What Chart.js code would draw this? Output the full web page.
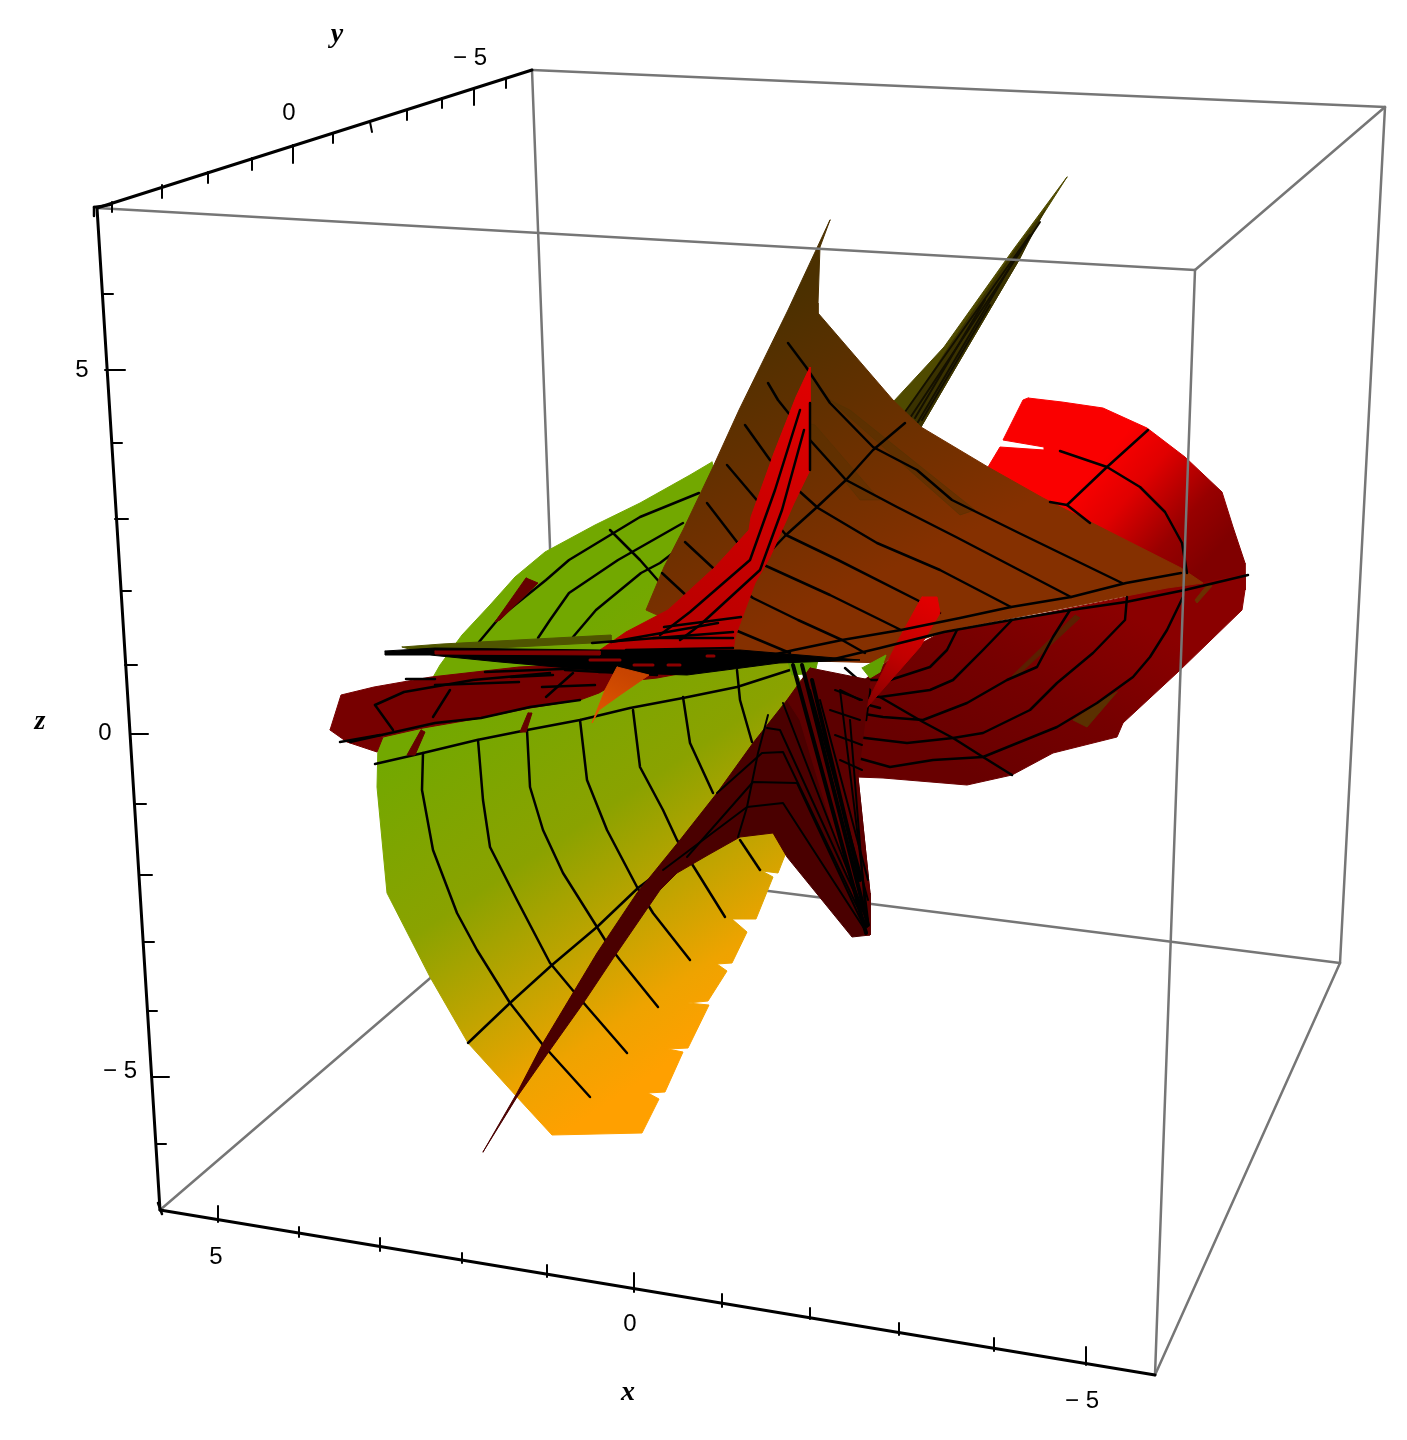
<!DOCTYPE html>
<html><head><meta charset="utf-8">
<style>html,body{margin:0;padding:0;background:#fff}canvas{display:block}</style>
<script src="https://cdn.jsdelivr.net/npm/chart.js@4"></script>
</head><body><canvas id="c" width="1407" height="1440"></canvas>
<script>
// ---- values (plot units: horizontal, vertical)
const boxBack=[[[532,70],[1385,107]],[[532,70],[562,865]],[[562,865],[1340,963]],[[160,1210],[562,865]]];
const boxFront=[[[97,208],[1195,270]],[[1195,270],[1385,107]],[[1385,107],[1340,963]],[[1340,963],[1155,1375]],[[1195,270],[1155,1375]]];
const axisY=[[97,208],[532,70]];
const axisZ=[[97,208],[160,1210]];
const axisX=[[160,1210],[1155,1375]];
const cornerMarks=[[[94,207],[110,205]],[[94,207],[94,216]],[[158,1203],[162,1214]]];
const ticksY=[[[112,202],[112,212]],[[162,185],[162,198]],[[208,172],[208,183]],[[252,158],[252,170]],[[293,145],[293,163]],[[333,133],[333,143]],[[370,122],[372,132]],[[407,110],[407,120]],[[442,98],[442,108]],[[474,88],[474,105]],[[506,78],[506,88]]];
const ticksZ=[[[102,294],[113,294]],[[105,370],[125,370]],[[112,443],[122,443]],[[115,519],[128,519]],[[121,591],[131,591]],[[125,665],[137,665]],[[130,734],[148,734]],[[136,804],[146,804]],[[139,875],[152,875]],[[144,942],[154,942]],[[147,1011],[157,1011]],[[153,1077],[169,1077]],[[156,1144],[166,1144]]];
const ticksX=[[[218,1206],[218,1222]],[[299,1227],[299,1237]],[[380,1238],[380,1251]],[[462,1253],[462,1263]],[[547,1265],[547,1277]],[[634,1273],[634,1292]],[[722,1294],[722,1307]],[[810,1308],[810,1319]],[[899,1323],[899,1335]],[[994,1338],[994,1351]],[[1086,1347],[1086,1365]]];
const tickLabels=[["-5",470,58],["0",289,113],["5",82,370],["0",105,733],["-5",120,1071],["5",216,1257],["0",630,1324],["-5",1082,1401]];
const axisTitles=[["y",337,35],["z",40,722],["x",628,1393]];

const spike=[[1067,177],[1035,227],[1019,260],[956,367],[921,427],[893,402],[944,347],[1013,250]];
const spikeDark=[[1045,210],[1019,260],[956,367],[921,427],[905,415],[950,345],[1015,250]];
const redLobe=[[1028,398],[1062,402],[1103,408],[1147,428],[1185,457],[1222,492],[1233,527],[1245,563],[1245,590],[1180,620],[1050,560],[988,467],[1000,447],[1044,450],[1044,447],[1003,440],[1023,400]];
const redSurface=[[1245,575],[1245,590],[1242,610],[1178,672],[1123,723],[1117,737],[1053,753],[1012,775],[967,785],[883,778],[857,777],[840,700],[885,663],[940,633],[1011,620],[1126,597]];
const greenSurface=[[712,462],[690,475],[640,503],[595,525],[545,552],[515,577],[490,605],[462,635],[440,665],[420,700],[378,743],[377,787],[387,893],[430,977],[468,1043],[517,1097],[552,1135],[642,1133],[659,1099],[648,1093],[665,1092],[683,1052],[668,1049],[688,1048],[709,1005],[688,1003],[708,1001],[727,971],[717,964],[732,963],[747,932],[732,919],[756,919],[773,877],[762,871],[778,873],[787,850],[810,700],[740,560]];
const brownSurface=[[830,220],[820,247],[818,303],[818,313],[893,400],[921,427],[988,467],[1043,498],[1181,568],[1203,583],[1167,588],[1070,607],[987,623],[950,630],[900,647],[885,663],[778,660],[735,650],[646,610],[664,567],[683,530],[713,467],[739,410],[788,310]];
const brownShadeA=[[830,400],[850,410],[975,510],[960,515]];
const brownShadeB=[[795,420],[815,425],[880,500],[860,500]];
const leftBand=[[330,730],[341,695],[374,687],[431,677],[519,667],[657,660],[700,670],[657,678],[618,682],[599,693],[580,700],[530,708],[481,718],[423,728],[383,737],[377,752],[347,742]];
const oliveStrip=[[402,647],[442,644],[611,635],[611,642],[420,652]];
const blackBand=[[385,651],[435,648],[600,650],[740,650],[860,660],[779,663],[741,668],[687,675],[626,673],[500,662],[430,655],[385,655]];
const redStreaks=[[435,651],[600,651],[600,655],[435,654]];
const redWing=[[626,632],[668,610],[715,567],[749,530],[751,517],[774,453],[796,397],[810,367],[810,403],[810,470],[794,503],[770,557],[755,583],[735,637],[733,652],[600,650]];
const redLeaf=[[922,597],[937,597],[940,613],[920,647],[862,713],[900,637]];
const orangeChip=[[617,667],[649,675],[620,695],[599,710],[592,723],[605,690]];
const greenPatchA=[[787,658],[818,660],[815,673],[792,675]];
const greenPatchB=[[862,668],[886,655],[880,672],[870,678]];
const darkSlashA=[[526,578],[538,583],[500,620],[495,622]];
const darkSlashB=[[421,730],[425,732],[415,755],[407,755]];
const darkSlashC=[[528,713],[532,713],[526,732],[520,732]];
const brownStreakA=[[1117,692],[1087,727],[1073,720],[1103,700]];
const brownStreakB=[[1075,615],[1080,618],[1015,678],[1012,676]];
const brownStreakC=[[1207,585],[1212,586],[1197,603],[1195,600]];
const bladeThin=[[483,1152],[517,1093],[543,1043],[597,953],[637,893],[680,840],[717,793],[753,743],[787,700],[810,677],[858,777],[870,893],[870,935],[852,937],[787,857],[773,833],[740,837],[708,855],[677,873],[660,890],[612,960],[582,1005],[550,1050],[517,1097]];
const bladeUpper=[[810,668],[870,680],[858,777],[870,893],[870,935],[865,935],[800,720],[787,700]];

const meshGreen=[
 [[423,753],[422,790],[433,850],[457,913],[477,950],[510,1003],[543,1045],[590,1097]],
 [[478,740],[483,800],[490,847],[517,900],[550,963],[575,993],[627,1053]],
 [[527,730],[530,787],[543,830],[563,873],[597,927],[607,943],[620,960],[658,1007]],
 [[580,720],[587,780],[607,830],[637,887],[653,913],[690,960]],
 [[633,710],[640,767],[663,810],[677,840],[697,872],[725,917]],
 [[683,697],[690,743],[713,793]],[[740,840],[760,870]],
 [[737,670],[740,700],[752,742]],
 [[375,764],[423,753],[477,740],[527,730],[580,720],[630,708],[683,698],[737,687],[790,670]],
 [[468,1043],[510,1003],[552,965],[597,927],[638,888],[662,870]],
 [[479,642],[500,617],[546,580],[569,560],[640,517],[699,493]],
 [[538,638],[550,620],[569,593],[618,560],[683,523]],
 [[573,637],[596,610],[641,573],[660,563],[690,540]],
 [[610,530],[640,560],[662,585]]];
const meshBrown=[
 [[788,343],[806,367],[830,403],[873,447],[917,470],[952,500],[1019,533],[1122,583]],
 [[768,383],[778,400],[810,440],[846,480],[897,507],[956,537],[1071,597]],
 [[745,425],[770,460],[798,490],[818,508],[877,543],[940,570],[1011,607]],
 [[727,465],[755,498],[786,535],[838,560],[917,600],[940,613]],
 [[707,503],[737,542],[764,565],[830,595],[901,630]],
 [[685,542],[713,568],[753,598],[798,620],[842,640],[865,653]],
 [[662,573],[689,598],[735,630],[790,653]],
 [[905,423],[873,450],[846,480],[816,508],[786,535],[762,560]]];
const meshEdge=[
 [[1181,573],[1126,583],[1071,597],[1011,607],[960,618],[901,630],[842,640],[794,650],[750,660]],
 [[1248,575],[1185,590],[1126,602],[1071,610],[1011,620],[944,632],[880,648],[830,660]]];
const meshRedLobe=[
 [[1148,430],[1107,467],[1067,505],[1050,502]],
 [[1060,451],[1107,467],[1140,487],[1165,512],[1182,543],[1187,573]],
 [[1067,505],[1090,523]]];
const meshLower=[
 [[1127,597],[1125,620],[1093,653],[1057,683],[1030,710],[983,733],[953,738],[907,743],[840,735]],
 [[1183,597],[1167,630],[1150,657],[1133,677],[1097,703],[1057,727],[983,757],[933,760],[890,767],[847,755]],
 [[1070,610],[1053,637],[1037,667],[1007,680],[967,703],[923,720],[883,717],[840,710]],
 [[1012,620],[983,650],[953,680],[930,690],[880,697],[840,692]],
 [[957,630],[947,650],[930,667],[890,680],[850,680]],
 [[880,697],[923,722],[953,738],[983,757],[1012,775]],
 [[845,668],[870,690],[866,720]],[[850,700],[880,708]]];
const meshBand=[
 [[375,705],[393,730]],[[350,742],[435,723],[481,718],[530,707],[580,700]],
 [[433,717],[450,690]],[[546,697],[573,673]],
 [[375,705],[404,692],[473,680],[550,673]],[[340,742],[380,735]],
 [[406,679],[435,679]],[[485,672],[588,668]],[[511,677],[553,675]],
 [[435,685],[519,682]],[[542,687],[595,685]],[[565,670],[657,675]],[[599,672],[733,667]]];
const meshWing=[
 [[810,403],[810,470]],[[800,410],[775,490],[750,560],[690,612],[660,635]],
 [[804,430],[782,510],[760,570],[700,625],[680,640]],
 [[592,643],[733,632]],[[626,650],[733,648]],[[653,638],[733,638]],[[611,642],[718,623]],[[664,627],[741,617]]];
const meshBlackDashes=[[[707,656],[714,656]],[[634,665],[653,665]],[[668,665],[680,665]],[[590,660],[620,660]]];
const meshBlade=[
 [[663,870],[747,807],[783,803],[867,933]],
 [[687,857],[753,782],[797,783],[867,933]],
 [[717,793],[762,753],[783,752],[867,927]],
 [[767,728],[780,730],[867,920]],
 [[783,703],[863,910]],
 [[768,715],[758,753],[747,807],[738,837]],
 [[810,690],[868,900]],[[820,700],[868,880]],[[860,700],[840,690],[868,920]],[[850,720],[866,920]],
 [[835,690],[862,700]],[[830,710],[860,720]],[[835,735],[862,745]],[[840,760],[862,770]]];
const meshBladeHeavy=[[[793,665],[866,933]],[[802,665],[868,925]],[[812,680],[860,880]]];
const meshSpike=[[[1040,222],[910,418]],[[1030,235],[905,412]],[[1020,250],[918,422]],[[990,305],[922,420]],[[985,300],[915,418]]];

// ---- page
const canvas=document.getElementById('c');
const ctx=canvas.getContext('2d');
function grad(a,b,stops){const g=ctx.createLinearGradient(a[0],a[1],b[0],b[1]);stops.forEach(s=>g.addColorStop(s[0],s[1]));return g;}
const datasets=[];
function poly(points,color){datasets.push({data:points.concat([points[0]]),showLine:true,fill:'shape',backgroundColor:color,borderColor:color,borderWidth:1,pointRadius:0,tension:0});}
function lines(list,color,w){list.forEach(p=>datasets.push({data:p,showLine:true,fill:false,borderColor:color,borderWidth:w,pointRadius:0,tension:0}));}

lines(boxBack,'#767676',2.5);
poly(spike,'#4f4a00');poly(spikeDark,'#3a3200');lines(meshSpike,'#141000',2);
poly(redLobe,grad([1085,480],[1195,575],[[0,'#fa0000'],[0.3,'#e00000'],[0.7,'#980000'],[1,'#800000']]));
poly(redSurface,grad([1100,600],[1000,790],[[0,'#8a0000'],[0.5,'#750000'],[1,'#680000']]));
poly(brownStreakA,'#5a3000');poly(brownStreakB,'#5a2000');poly(brownStreakC,'#6a3000');
poly(greenSurface,grad([500,680],[728,1024],[[0,'#72a800'],[0.4,'#8aa200'],[0.65,'#c0a400'],[0.85,'#eea300'],[1,'#ffa000']]));
lines(meshGreen,'#000',2.5);
poly(darkSlashA,'#660000');poly(darkSlashB,'#660000');poly(darkSlashC,'#660000');
poly(brownSurface,grad([775,300],[900,565],[[0,'#4b3000'],[0.4,'#613000'],[1,'#853000']]));
poly(brownShadeA,'rgba(80,48,0,0.45)');poly(brownShadeB,'rgba(80,48,0,0.35)');
lines(meshBrown,'#000',2.5);
lines(meshRedLobe,'#000',2.5);
lines(meshLower,'#000',2.5);
poly(greenPatchA,'#62a000');poly(greenPatchB,'#62a000');
poly(redLeaf,grad([925,600],[865,710],[[0,'#e00000'],[0.5,'#c00000'],[1,'#800000']]));
lines(meshEdge,'#000',2.5);
poly(leftBand,'#770000');
poly(oliveStrip,'#4f5500');
poly(redWing,grad([810,370],[680,640],[[0,'#e00000'],[1,'#b80000']]));lines(meshWing,'#000',2.5);
poly(blackBand,'#000');poly(redStreaks,'#800000');lines(meshBand,'#000',2.5);lines(meshBlackDashes,'#8a0000',3);
poly(orangeChip,grad([620,670],[595,720],[[0,'#c84400'],[1,'#e05800']]));
poly(bladeThin,'#4a0000');poly(bladeUpper,'#5c0000');
lines(meshBlade,'#000',2);lines(meshBladeHeavy,'#000',4);
lines(boxFront,'#767676',2.5);
lines([axisY,axisZ,axisX],'#000',3);
lines(cornerMarks,'#000',2.5);
lines(ticksY.concat(ticksZ,ticksX),'#000',2);

datasets.forEach((d,i)=>{d.order=-i;});

const labelsPlugin={id:'axisText',afterDraw(chart){
 const c=chart.ctx,sx=chart.scales.x,sy=chart.scales.y;
 c.save();c.fillStyle='#000';c.textAlign='center';c.textBaseline='middle';
 c.font='24px "Liberation Sans"';
 tickLabels.forEach(t=>c.fillText(t[0].replace('-','\u2212 '),sx.getPixelForValue(t[1]),sy.getPixelForValue(t[2])));
 c.font='italic bold 28px "Liberation Serif"';
 axisTitles.forEach(t=>c.fillText(t[0],sx.getPixelForValue(t[1]),sy.getPixelForValue(t[2])));
 c.restore();
}};

new Chart(ctx,{type:'scatter',data:{datasets},plugins:[labelsPlugin],options:{
 responsive:false,animation:false,events:[],
 layout:{padding:0},
 plugins:{legend:{display:false},tooltip:{enabled:false},title:{display:false}},
 elements:{line:{borderCapStyle:'round',borderJoinStyle:'round'}},
 scales:{
  x:{type:'linear',min:0,max:1407,display:false},
  y:{type:'linear',min:0,max:1440,reverse:true,display:false}
 }}});
</script></body></html>
